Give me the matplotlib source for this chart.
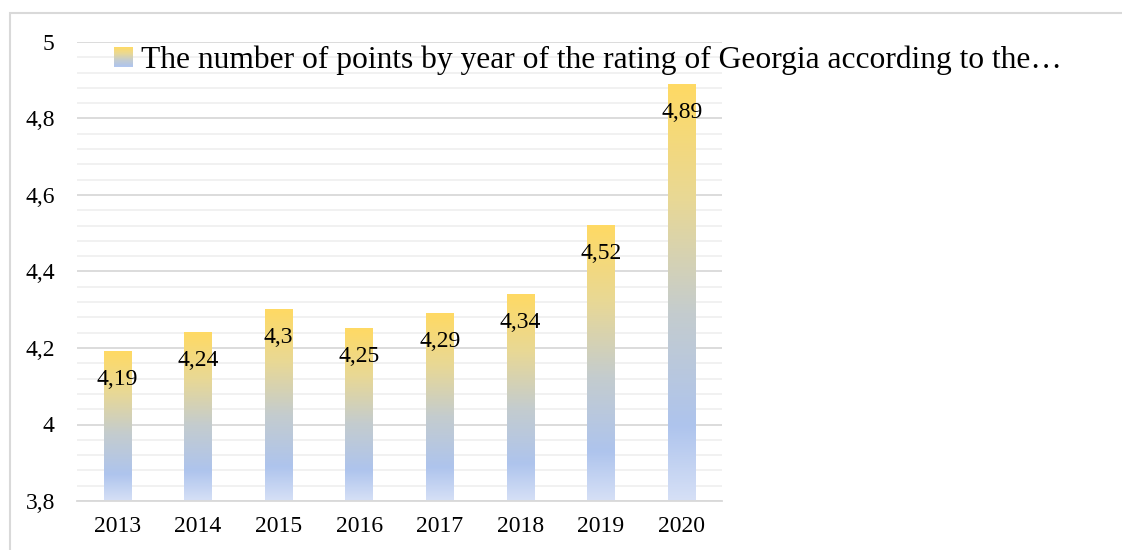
import matplotlib
matplotlib.use("Agg")
import matplotlib.pyplot as plt
import numpy as np
from matplotlib.patches import Rectangle
from matplotlib.colors import LinearSegmentedColormap
from matplotlib.legend_handler import HandlerBase
from matplotlib.ticker import MultipleLocator, FuncFormatter

years = ["2013", "2014", "2015", "2016", "2017", "2018", "2019", "2020"]
values = [4.19, 4.24, 4.3, 4.25, 4.29, 4.34, 4.52, 4.89]
labels = ["4,19", "4,24", "4,3", "4,25", "4,29", "4,34", "4,52", "4,89"]
legend_label = "The number of points by year of the rating of Georgia according to the…"

plt.rcParams['font.family'] = ['Liberation Serif', 'DejaVu Serif']

cmap = LinearSegmentedColormap.from_list("grad", [
    (0.0, (214/255, 224/255, 246/255)),
    (0.18, (174/255, 196/255, 237/255)),
    (0.45, (196/255, 204/255, 206/255)),
    (0.72, (232/255, 216/255, 150/255)),
    (1.0, (255/255, 218/255, 100/255)),
])
grad = np.linspace(0, 1, 256).reshape(-1, 1)

FS = 17

fig = plt.figure(figsize=(11.22, 5.5), dpi=100)
fig.patches.append(Rectangle((10/1122, -0.1), 1.2, 1 - 13/550 + 0.1,
                             transform=fig.transFigure, fill=False,
                             edgecolor='#D9D9D9', linewidth=1.5))
ax = fig.add_axes([77/1122, 1 - 501/550, 645/1122, 459/550])
ax.set_ylim(3.8, 5.0)
ax.set_xlim(-0.5, len(years) - 0.5)
ax.yaxis.set_major_locator(MultipleLocator(0.2))
ax.yaxis.set_minor_locator(MultipleLocator(0.04))
ax.yaxis.set_major_formatter(FuncFormatter(lambda v, p: f"{v:.1f}".rstrip('0').rstrip('.').replace('.', ',') if abs(v - 4) > 1e-9 else "4"))
ax.grid(True, which='major', axis='y', color='#D9D9D9', linewidth=1.3, zorder=0)
ax.grid(True, which='minor', axis='y', color='#F0F0F0', linewidth=1.3, zorder=0)
ax.set_axisbelow(True)
for s in ['top', 'right', 'left']:
    ax.spines[s].set_visible(False)
ax.spines['bottom'].set_color('#D9D9D9')
ax.spines['bottom'].set_linewidth(1.3)
ax.tick_params(axis='both', which='both', length=0, labelsize=FS, colors='black')
ax.tick_params(axis='y', pad=16)
ax.tick_params(axis='x', pad=11)

x = np.arange(len(years))
bars = ax.bar(x, np.array(values) - 3.8, bottom=3.8, width=0.34, color='none', edgecolor='none', zorder=2)
for b in bars:
    bx, by, bw, bh = b.get_x(), b.get_y(), b.get_width(), b.get_height()
    ax.imshow(grad, cmap=cmap, origin='lower', aspect='auto',
              extent=[bx, bx + bw, by, by + bh], zorder=2, interpolation='bilinear')
ax.set_xlim(-0.5, len(years) - 0.5)
ax.set_ylim(3.8, 5.0)
ax.set_xticks(x)
ax.set_xticklabels(years)

for xi, v, lab in zip(x, values, labels):
    ax.annotate(lab, (xi, v), xytext=(0, -28), textcoords='offset pixels',
                ha='center', va='center', fontsize=FS, zorder=3)

class GradHandler(HandlerBase):
    def create_artists(self, legend, orig_handle, xdescent, ydescent, width, height, fontsize, trans):
        arts = []
        n = 20
        size = height
        x0 = xdescent
        for i in range(n):
            c = cmap(0.15 + 0.85 * (i + 0.5) / n)
            r = Rectangle((x0, -ydescent + size * i / n), width, size / n + 0.01,
                          facecolor=c, edgecolor='none', transform=trans)
            arts.append(r)
        return arts

handle = Rectangle((0, 0), 1, 1)
fig.legend([handle], [legend_label], handler_map={Rectangle: GradHandler()},
           loc='center left', bbox_to_anchor=(114/1122, 1 - 60/550), frameon=False,
           fontsize=22.7, handlelength=0.6, handleheight=0.6, handletextpad=0.25,
           borderpad=0, borderaxespad=0)

fig.savefig("out.png", dpi=100)
